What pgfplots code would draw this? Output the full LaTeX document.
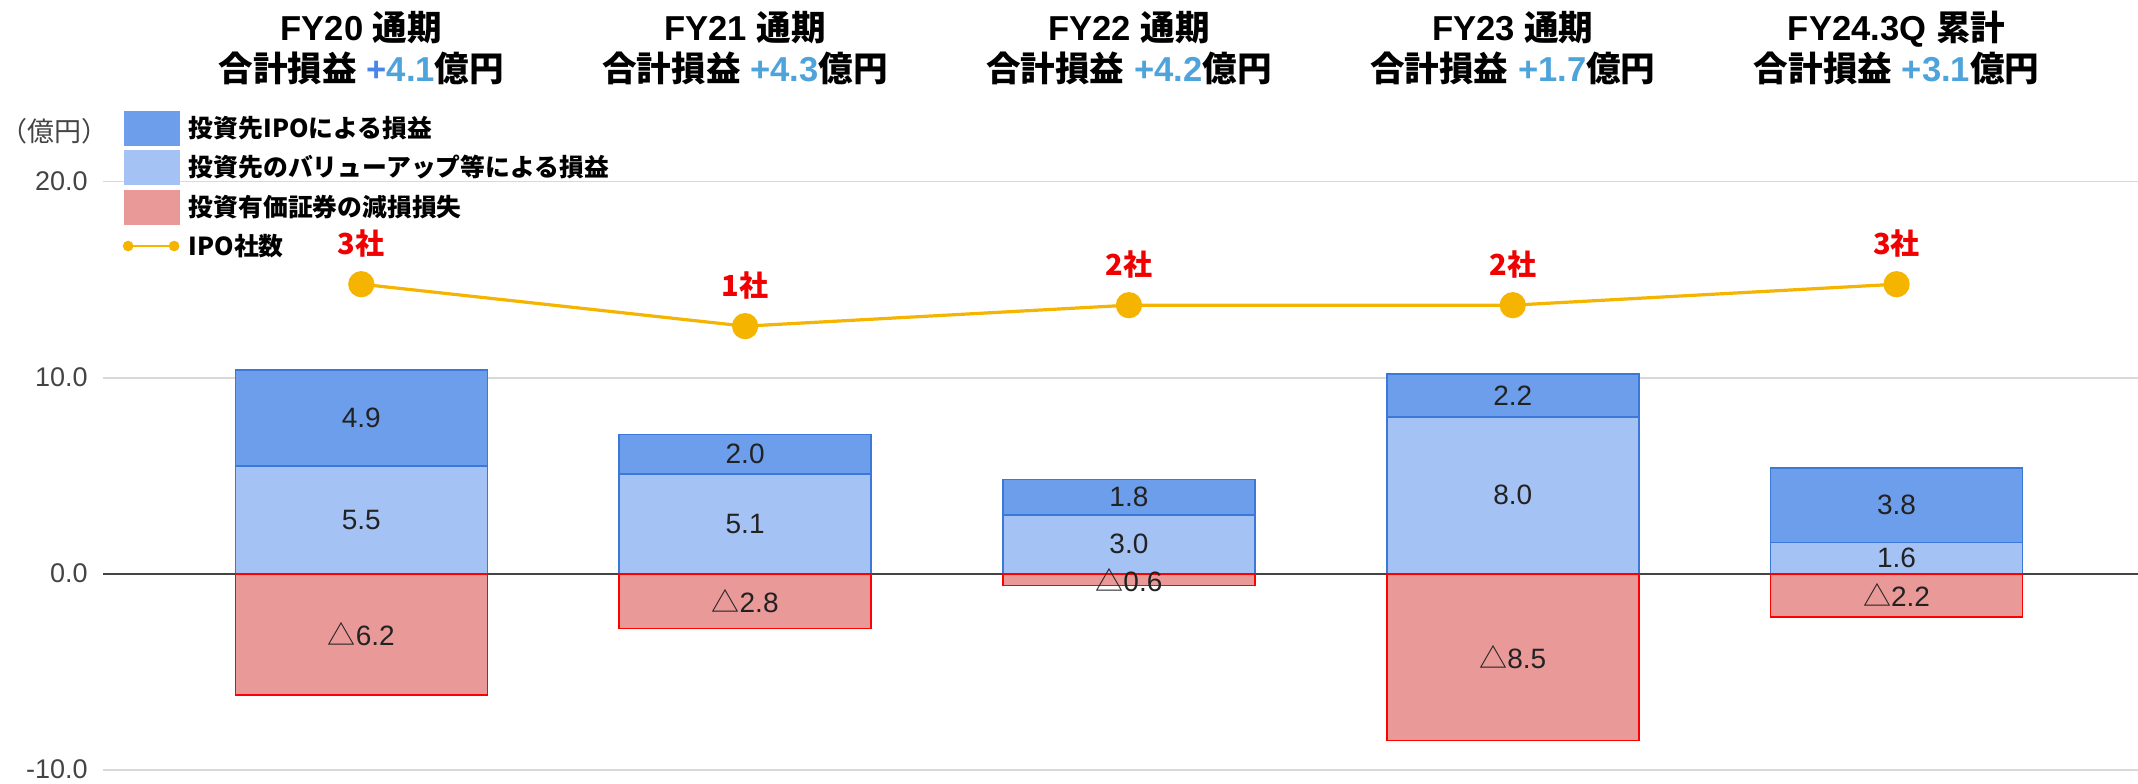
\documentclass[border=0pt]{standalone}
\usepackage{fontspec}
\setmainfont{Liberation Sans}
\newfontfamily\jp{Noto Sans CJK JP}
\usepackage{pgfplots}
\usepackage{pgfplotstable}
\pgfplotsset{compat=1.18}

\definecolor{cIPO}{HTML}{6D9EEB}
\definecolor{cVU}{HTML}{A4C2F4}
\definecolor{cLoss}{HTML}{EA9999}
\definecolor{cEdgeB}{HTML}{3C78D8}
\definecolor{cEdgeR}{HTML}{FF0000}
\definecolor{cLine}{HTML}{F4B400}
\definecolor{cGrid}{HTML}{D9D9D9}
\definecolor{cZero}{HTML}{444444}
\definecolor{cTick}{HTML}{444444}
\definecolor{cLab}{HTML}{222222}
\definecolor{cNum}{HTML}{4FA3DB}
\definecolor{cPlus}{HTML}{4A86E8}
\definecolor{cRed}{HTML}{F00000}

% la = size of the loss, as printed after the triangle
\pgfplotstableread{
x ipo vu loss la n
0 4.9 5.5 -6.2 6.2 3
1 2.0 5.1 -2.8 2.8 1
2 1.8 3.0 -0.6 0.6 2
3 2.2 8.0 -8.5 8.5 2
4 3.8 1.6 -2.2 2.2 3
}\data

\tikzset{lab/.style={font=\fontsize{14pt}{16pt}\selectfont, text=cLab, inner sep=1pt},
  ttl/.style={align=center, font=\bfseries\fontsize{17.3pt}{20.5pt}\selectfont, text=black}}

\begin{document}
\begin{tikzpicture}
\useasboundingbox (-51.5pt,-6.65pt) rectangle (1017.5pt,384.85pt);
\pgfplotsset{base/.style={at={(0pt,0pt)}, anchor=south west, scale only axis,
  width=1017.5pt, height=294pt, xmin=-0.673, xmax=4.629}}

% ---- axis 1: grid, ticks, positive stacked bars, titles
\begin{axis}[base, ymin=-10, ymax=20, ybar stacked, bar width=126pt, clip=false,
  axis line style={draw=none}, tick style={draw=none}, major tick length=0pt,
  xtick=\empty, ytick={-10,0,10,20},
  ymajorgrids, grid style={cGrid, line width=0.8pt},
  extra y ticks={0}, extra y tick labels={},
  extra y tick style={grid style={cZero, line width=0.9pt}},
  yticklabel style={font=\fontsize{13.5pt}{16pt}\selectfont, text=cTick, inner sep=0pt, xshift=-7.5pt,
    /pgf/number format/.cd, fixed, fixed zerofill, precision=1, assume math mode=true},
  point meta=explicit,
  nodes near coords={\pgfmathprintnumber[fixed,fixed zerofill,precision=1,assume math mode=true]{\pgfplotspointmeta}},
  every node near coord/.append style={lab, anchor=center},
]
\addplot[fill=cVU, draw=cEdgeB, line width=0.8pt] table[x=x, y=vu, meta=vu]{\data};
\addplot[fill=cIPO, draw=cEdgeB, line width=0.8pt] table[x=x, y=ipo, meta=ipo]{\data};

\node[ttl] at (axis cs:0,26.8) {FY20 {\jp 通期}\\{\jp 合計損益} {\color{cPlus}+}{\color{cNum}4.1}{\jp 億円}};
\node[ttl] at (axis cs:1,26.8) {FY21 {\jp 通期}\\{\jp 合計損益} {\color{cNum}+4.3}{\jp 億円}};
\node[ttl] at (axis cs:2,26.8) {FY22 {\jp 通期}\\{\jp 合計損益} {\color{cNum}+4.2}{\jp 億円}};
\node[ttl] at (axis cs:3,26.8) {FY23 {\jp 通期}\\{\jp 合計損益} {\color{cNum}+1.7}{\jp 億円}};
\node[ttl] at (axis cs:4,26.8) {FY24.3Q {\jp 累計}\\{\jp 合計損益} {\color{cNum}+3.1}{\jp 億円}};
\node[font=\jp\fontsize{13.5pt}{15pt}\selectfont, text=cTick] at (rel axis cs:-0.0240,1.0862) {（億円）};
\end{axis}

% ---- axis 2: negative bars
\begin{axis}[base, ymin=-10, ymax=20, ybar, bar width=126pt, bar shift=0pt, hide axis, clip=false,
  point meta=explicit,
  visualization depends on={rawy \as \segval},
  nodes near coords={{\jp △}\pgfmathprintnumber[fixed,fixed zerofill,precision=1,assume math mode=true]{\pgfplotspointmeta}},
  every node near coord/.append style={lab, anchor=center, yshift={-(\segval)*4.9pt}}]
\addplot[fill=cLoss, draw=cEdgeR, line width=0.8pt] table[x=x, y=loss, meta=la]{\data};
\end{axis}

% ---- axis 3: IPO count line (secondary scale) and legend
\begin{axis}[base, ymin=-20.15, ymax=7.888, clip=false,
  axis line style={draw=none}, tick style={draw=none}, xtick=\empty, ytick=\empty,
  legend style={at={(rel axis cs:0.0098,1.1205)}, anchor=north west, draw=none, fill=none,
    inner sep=0pt, outer sep=0pt, row sep=2.3pt,
    font=\jp\bfseries\fontsize{12.4pt}{15pt}\selectfont,
    cells={anchor=west}, nodes={inner sep=0pt, minimum height=17pt},
    /tikz/every odd column/.append style={column sep=4.5pt}},
]
\addlegendimage{legend image code/.code={\fill[cIPO] (0pt,-8.5pt) rectangle (27.5pt,8.5pt);}}
\addlegendentry{投資先IPOによる損益}
\addlegendimage{legend image code/.code={\fill[cVU] (0pt,-8.5pt) rectangle (27.5pt,8.5pt);}}
\addlegendentry{投資先のバリューアップ等による損益}
\addlegendimage{legend image code/.code={\fill[cLoss] (0pt,-8.5pt) rectangle (27.5pt,8.5pt);}}
\addlegendentry{投資有価証券の減損損失}
\addplot[cLine, line width=1.6pt, mark=*, mark size=5.75pt, mark options={fill=cLine, draw=none},
  point meta=explicit,
  nodes near coords={\pgfmathprintnumber[assume math mode=true]{\pgfplotspointmeta}社},
  every node near coord/.append style={anchor=center, yshift=20.5pt, text=cRed,
    font=\jp\bfseries\fontsize{14.5pt}{16pt}\selectfont},
  legend image code/.code={\draw[cLine, line width=1pt] (0.5pt,0pt) -- (25pt,0pt);
    \fill[cLine] (1.8pt,0pt) circle (1.8pt) (24.8pt,0pt) circle (1.8pt);}]
  table[x=x, y=n, meta=n]{\data};
\addlegendentry{IPO社数}
\end{axis}
\end{tikzpicture}
\end{document}
